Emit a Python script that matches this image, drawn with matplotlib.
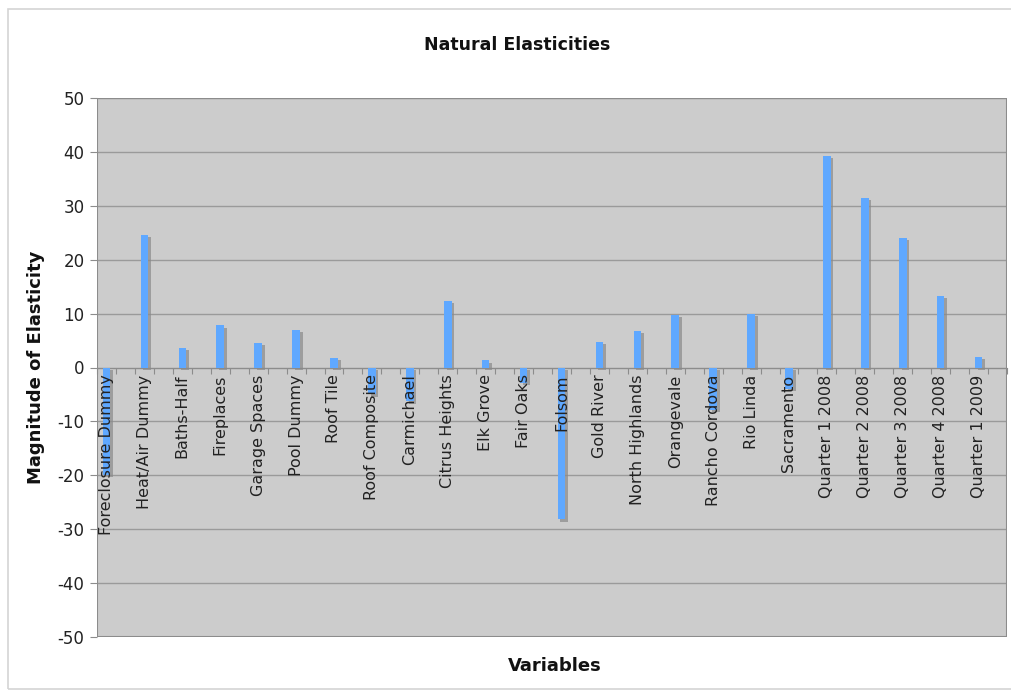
import numpy as np
import matplotlib.pyplot as plt
import matplotlib.patheffects as pe
from matplotlib.patches import Rectangle

# Variáveis e elasticidades estimadas
variables = ["Foreclosure Dummy", "Heat/Air Dummy", "Baths-Half", "Fireplaces",
             "Garage Spaces", "Pool Dummy", "Roof Tile", "Roof Composite",
             "Carmichael", "Citrus Heights", "Elk Grove", "Fair Oaks", "Folsom",
             "Gold River", "North Highlands", "Orangevale", "Rancho Cordova",
             "Rio Linda", "Sacramento", "Quarter 1 2008", "Quarter 2 2008",
             "Quarter 3 2008", "Quarter 4 2008", "Quarter 1 2009"]
elasticities = [-20.0, 24.6, 3.7, 7.8, 4.6, 6.9, 1.8, -5.0,
                -6.3, 12.4, 1.3, -2.8, -28.2,
                4.7, 6.8, 9.7, -7.8,
                10.0, -4.0, 39.3, 31.5,
                24.0, 13.2, 1.9]
y_ticks = [-50, -40, -30, -20, -10, 0, 10, 20, 30, 40, 50]

fig = plt.figure(figsize=(10.11, 6.9), dpi=100)
fig.patches.append(Rectangle((8 / 1011, 0.002), 1.0, (680 / 690), transform=fig.transFigure,
                             fill=False, edgecolor="#d4d4d4", linewidth=1.2, zorder=0))

ax = fig.add_axes([97 / 1011, 53 / 690, 910 / 1011, 539 / 690])
ax.set_facecolor("#cccccc")

x = np.arange(len(variables)) + 0.25
bars = ax.bar(x, elasticities, width=0.2, color="#5fa8ff", zorder=3)
for b in bars:
    b.set_path_effects([pe.SimplePatchShadow(offset=(2, -1.5), shadow_rgbFace="#8a8a8a", alpha=0.7),
                        pe.Normal()])

ax.set_xlim(0, len(variables))
ax.set_ylim(-50, 50)
ax.set_yticks(y_ticks)
ax.set_yticklabels([str(v) for v in y_ticks], fontsize=12, color="#222222")
ax.yaxis.grid(True, color="#9a9a9a", linewidth=1.0, zorder=1)
ax.set_axisbelow(True)

# eixo das categorias passando pelo zero
ax.spines["bottom"].set_position(("data", 0))
ax.spines["bottom"].set_color("#8c8c8c")
ax.spines["bottom"].set_zorder(2)
ax.set_xticks(np.arange(0, len(variables) + 0.01, 0.5))
ax.set_xticklabels([])
ax.tick_params(axis="x", direction="out", length=4, color="#8c8c8c")
ax.tick_params(axis="y", direction="out", length=5, color="#8c8c8c", pad=4)
for s in ["top", "right", "left"]:
    ax.spines[s].set_visible(False)
ax.add_patch(Rectangle((0, 0), 1, 1, transform=ax.transAxes, fill=False,
                       edgecolor="#8c8c8c", linewidth=1.5, zorder=5))

for xi, name in zip(x, variables):
    ax.annotate(name, (xi, 0), xytext=(0, -5), textcoords="offset points",
                rotation=90, ha="center", va="top", fontsize=11.5,
                color="#222222", zorder=6)

fig.text(0.512, 0.935, "Natural Elasticities", ha="center", va="center",
         fontsize=12.5, fontweight="bold", color="#111111")
ax.set_ylabel("Magnitude of Elasticity", fontsize=13, fontweight="bold",
              color="#111111")
ax.yaxis.set_label_coords(-52 / 910, 0.5)
fig.text(555 / 1011, 1 - 666 / 690, "Variables", ha="center", va="center",
         fontsize=13, fontweight="bold", color="#111111")

plt.savefig("out.png", dpi=100)
plt.close()
